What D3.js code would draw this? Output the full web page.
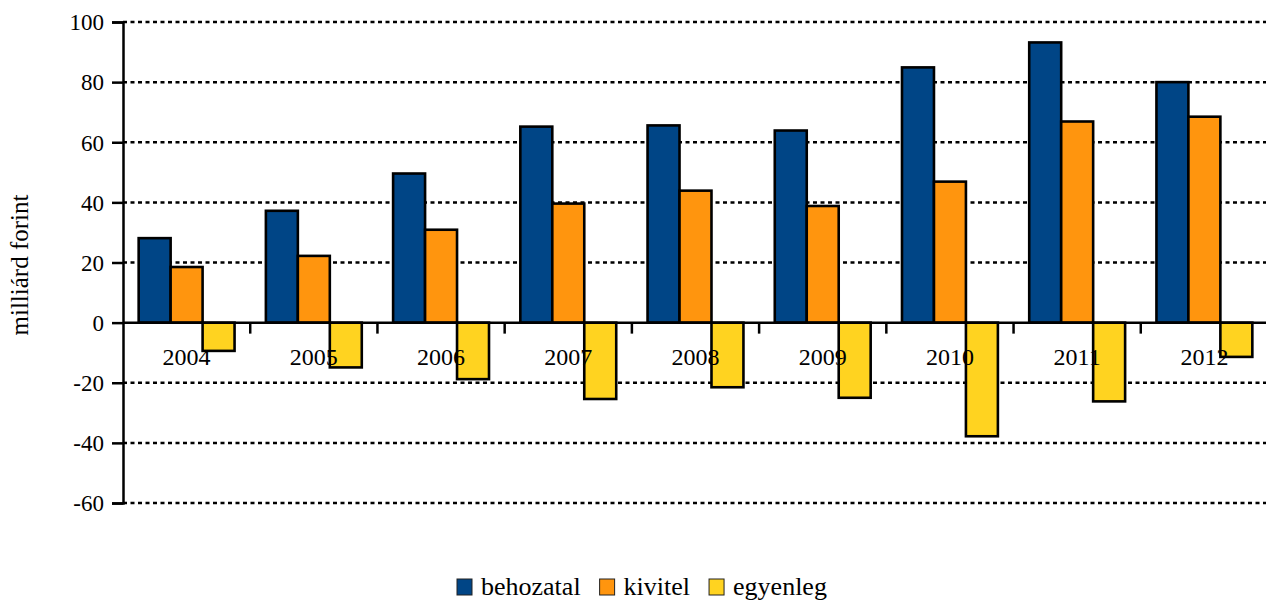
<!DOCTYPE html>
<html>
<head>
<meta charset="utf-8">
<script src="https://cdn.jsdelivr.net/npm/d3@7"></script>
<style>
  body { margin: 0; background: white; }
  text { font-family: "Liberation Serif", "DejaVu Serif", serif; fill: black; }
</style>
</head>
<body>
<script>
// ------------------------------- Data ------------------------------
var years = ["2004", "2005", "2006", "2007", "2008", "2009", "2010", "2011", "2012"];
var behozatal = [28.1, 37.2, 49.6, 65.2, 65.6, 63.9, 84.9, 93.2, 80.0];
var kivitel = [18.5, 22.2, 30.9, 39.6, 43.9, 38.8, 46.9, 66.9, 68.5];
var egyenleg = [-9.4, -14.9, -18.8, -25.4, -21.5, -25.0, -37.8, -26.2, -11.4];
var seriesNames = ["behozatal", "kivitel", "egyenleg"];
var seriesColors = ["#004586", "#ff950e", "#ffd320"];
var yTicks = [-60, -40, -20, 0, 20, 40, 60, 80, 100];

// ------------------------------- Setup ------------------------------
var width = 1266;
var height = 600;
// plot edges (note: "top" is reserved on window, so use plot* names)
var plotLeft = 123, plotRight = 1268, plotTop = 22, plotBottom = 503;

var svg = d3.select("body").append("svg")
  .attr("width", width)
  .attr("height", height);

var y = d3.scaleLinear().domain([-60, 100]).range([plotBottom, plotTop]);

var x0 = d3.scaleBand().domain(years).range([plotLeft, plotRight]).padding(0);
var x1 = d3.scaleBand().domain(seriesNames).range([0, x0.bandwidth()])
  .paddingInner(0).paddingOuter(0.49);

var values = [behozatal, kivitel, egyenleg];

// grid lines (dotted)
svg.append("g").selectAll("line")
  .data(yTicks.filter(function(d) { return d !== 0; }))
  .enter().append("line")
  .attr("x1", plotLeft).attr("x2", width)
  .attr("y1", function(d) { return y(d); })
  .attr("y2", function(d) { return y(d); })
  .attr("stroke", "black")
  .attr("stroke-width", 2.5)
  .attr("stroke-dasharray", "4,3.5");

// bars
var groups = svg.append("g").selectAll("g")
  .data(years)
  .enter().append("g")
  .attr("transform", function(d) { return "translate(" + x0(d) + ",0)"; });

groups.selectAll("rect")
  .data(function(d, i) {
    return seriesNames.map(function(s, k) { return { key: s, value: values[k][i], color: seriesColors[k] }; });
  })
  .enter().append("rect")
  .attr("x", function(d) { return x1(d.key); })
  .attr("width", x1.bandwidth())
  .attr("y", function(d) { return y(Math.max(0, d.value)); })
  .attr("height", function(d) { return Math.abs(y(d.value) - y(0)); })
  .attr("fill", function(d) { return d.color; })
  .attr("stroke", "black")
  .attr("stroke-width", 2.6);

// y axis (ticks from d3, labels drawn as plain serif text)
var yAxis = svg.append("g")
  .attr("transform", "translate(" + plotLeft + ",0)")
  .call(d3.axisLeft(y).tickValues(yTicks).tickSize(11).tickFormat(""));
yAxis.select(".domain").attr("stroke-width", 2.5);
yAxis.selectAll(".tick line").attr("stroke-width", 2.5);

svg.append("g").selectAll("text")
  .data(yTicks)
  .enter().append("text")
  .attr("x", plotLeft - 19)
  .attr("y", function(d) { return y(d); })
  .attr("dy", "0.36em")
  .attr("text-anchor", "end")
  .attr("font-size", "23px")
  .text(function(d) { return String(d); });

// zero line with category ticks
svg.append("line")
  .attr("x1", plotLeft).attr("x2", width)
  .attr("y1", y(0)).attr("y2", y(0))
  .attr("stroke", "black").attr("stroke-width", 2.5);

svg.append("g").selectAll("line")
  .data(years.slice(1).concat(["end"]))
  .enter().append("line")
  .attr("x1", function(d) { return d === "end" ? plotRight : x0(d); })
  .attr("x2", function(d) { return d === "end" ? plotRight : x0(d); })
  .attr("y1", y(0)).attr("y2", y(0) + 11)
  .attr("stroke", "black").attr("stroke-width", 2.5);

// year labels
svg.append("g").selectAll("text")
  .data(years)
  .enter().append("text")
  .attr("x", function(d) { return x0(d) + x0.bandwidth() / 2; })
  .attr("y", 365)
  .attr("text-anchor", "middle")
  .attr("font-size", "24px")
  .text(function(d) { return d; });

// y axis title
svg.append("text")
  .attr("transform", "translate(28,265) rotate(-90)")
  .attr("text-anchor", "middle")
  .attr("font-size", "25px")
  .text("milliárd forint");

// legend
var legend = svg.append("g");
var lx = 457;
seriesNames.forEach(function(s, k) {
  legend.append("rect")
    .attr("x", lx).attr("y", 579)
    .attr("width", 15).attr("height", 16)
    .attr("fill", seriesColors[k])
    .attr("stroke", "#222").attr("stroke-width", 1);
  var t = legend.append("text")
    .attr("x", lx + 24).attr("y", 595)
    .attr("font-size", "26px")
    .text(s);
  lx = lx + 24 + t.node().getComputedTextLength() + 19;
});
</script>
</body>
</html>
